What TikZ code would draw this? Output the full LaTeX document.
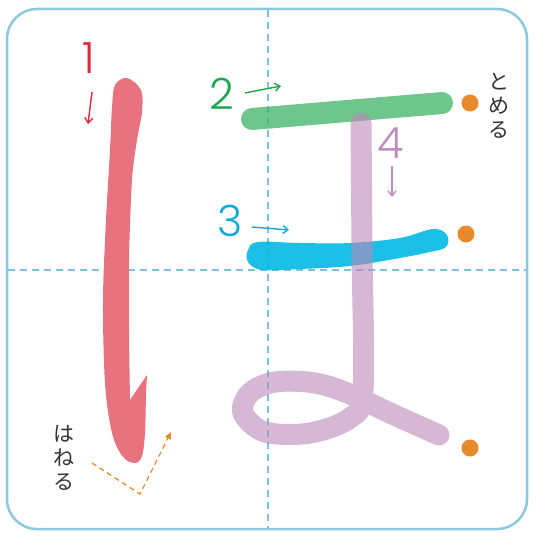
\documentclass[tikz,border=0pt]{standalone}
\usepackage{fontspec}
\setmainfont{Noto Sans CJK JP}
\newfontfamily\numfont{Poppins}[UprightFont={* Light}]
\usetikzlibrary{arrows.meta}
\definecolor{frameblue}{RGB}{140,200,222}
\definecolor{guideblue}{RGB}{125,195,222}
\definecolor{strokered}{RGB}{232,115,128}
\definecolor{strokegreen}{RGB}{61,179,101}
\definecolor{strokecyan}{RGB}{3,185,227}
\definecolor{strokepurple}{RGB}{187,135,183}
\definecolor{dotorange}{RGB}{232,137,44}
\definecolor{numred}{RGB}{218,40,60}
\definecolor{numgreen}{RGB}{30,165,80}
\definecolor{numcyan}{RGB}{15,170,220}
\definecolor{numpurple}{RGB}{190,140,190}
\tikzset{
  numlabel/.style={inner sep=0pt, font=\numfont\fontsize{43}{43}\selectfont},
  dirarrow/.style={line width=1.4pt, -{Straight Barb[length=5pt,width=8pt]}},
  guide/.style={guideblue, line width=1.2pt, dash pattern=on 7pt off 5pt},
  enddot/.style={circle, fill=dotorange, minimum size=17pt, inner sep=0pt},
  kana/.style={inner sep=0pt, align=center, font=\fontsize{21}{24}\selectfont, text=black!80},
  brush/.style={line cap=round, line join=round},
}
\begin{document}
\begin{tikzpicture}[x=1pt,y=-1pt]
\useasboundingbox (0,0) rectangle (543,543);
% frame
\draw[frameblue, line width=2.5pt, rounded corners=30pt] (7,9) rectangle (527,529);
% guides
\draw[guide] (268,10) -- (268,528);
\draw[guide] (8,270) -- (526,270);
% stroke 1
\fill[strokered] plot[smooth, tension=0.55] coordinates {(130,400) (129,330) (129,260) (132,180) (137,140) (142,112) (141,90) (127,78) (115,85) (112,107) (110,150) (106,220) (103,300) (105,383) (112,433) (123,457) (135,463) (142,456) (145,433) (146,395) (147,375)} -- cycle;
% stroke 2
\draw[brush, strokegreen, opacity=0.75, line width=22pt] (252,119) -- (442,103);
% stroke 3
\fill[strokecyan, opacity=0.9] plot[smooth cycle, tension=0.6] coordinates {(258,242) (300,243) (350,243) (400,238) (433,229) (447,235) (446,247) (430,252) (400,258) (350,266) (300,269) (262,270) (248,262) (248,250)};
% stroke 4
\draw[brush, strokepurple, opacity=0.6, line width=21pt] plot[smooth, tension=0.55] coordinates {(361,123) (362,250) (363,390) (350,418) (310,433) (265,432) (243,413) (250,393) (275,382) (315,383) (350,394) (390,413) (439,435)};
% end dots
\node[enddot] (d1) at (470,103) {};
\node[enddot] (d2) at (466,234) {};
\node[enddot] (d3) at (470,448) {};
% numbers and direction arrows
\node[numlabel, text=numred] (n1) at (89,58) {1};
\coordinate (a1s) at (92,92); \coordinate (a1e) at (88,124);
\draw[dirarrow, numred] (a1s) -- (a1e);
\node[numlabel, text=numgreen] (n2) at (222,94) {2};
\coordinate (a2s) at (245,93); \coordinate (a2e) at (281,86);
\draw[dirarrow, numgreen] (a2s) -- (a2e);
\node[numlabel, text=numcyan] (n3) at (230,221) {3};
\coordinate (a3s) at (252,227); \coordinate (a3e) at (289,230);
\draw[dirarrow, numcyan] (a3s) -- (a3e);
\node[numlabel, text=numpurple] (n4) at (391,143) {4};
\coordinate (a4s) at (392,166); \coordinate (a4e) at (392,197);
\draw[dirarrow, numpurple] (a4s) -- (a4e);
% labels
\node[kana] (tomeru) at (499,106) {と\\め\\る};
\node[kana] (haneru) at (64,458) {は\\ね\\る};
% hane hint
\coordinate (h1) at (92,463);
\coordinate (h2) at (140,494);
\coordinate (h3) at (171,432);
\draw[dotorange, line width=1.3pt, dash pattern=on 5pt off 4pt, -{Triangle[length=7pt,width=6pt]}] (h1) -- (h2) -- (h3);
\end{tikzpicture}
\end{document}
